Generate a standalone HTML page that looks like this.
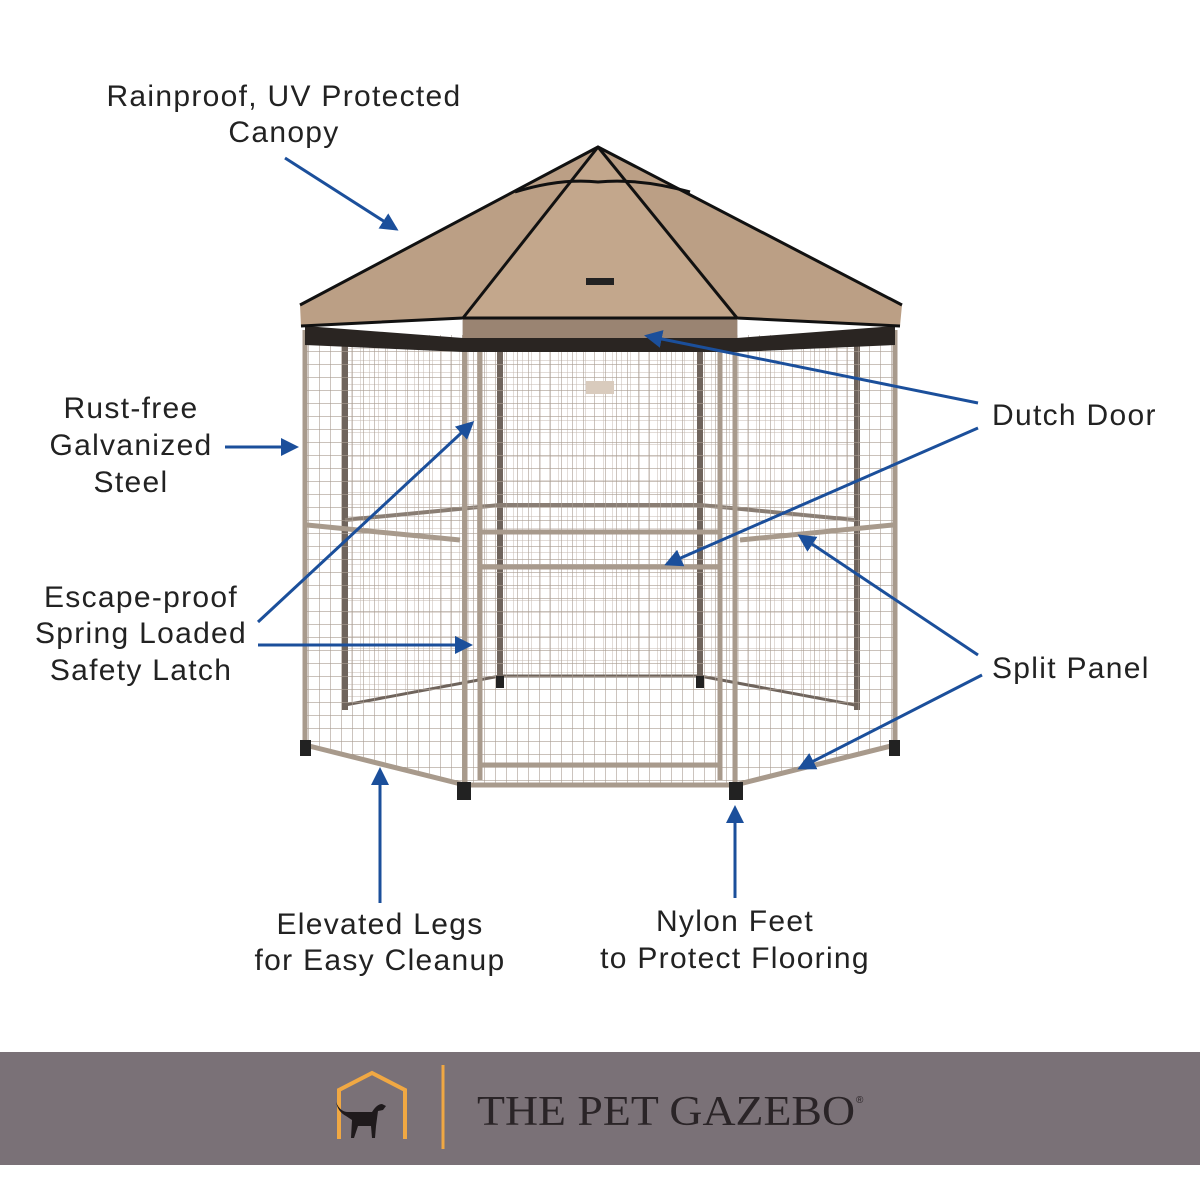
<!DOCTYPE html>
<html><head><style>
html,body{margin:0;padding:0;background:#fff;}
svg{display:block;}
text{font-family:"Liberation Sans",sans-serif;fill:#222;font-size:30px;letter-spacing:1.3px;}
</style></head><body>
<svg width="1200" height="1200" viewBox="0 0 1200 1200" xmlns="http://www.w3.org/2000/svg">
<defs>
<pattern id="g" width="11" height="13" patternUnits="userSpaceOnUse">
<path d="M0 0V13M0 0H11" stroke="#a99d92" stroke-width="1.2" fill="none"/>
</pattern>
<pattern id="g2" width="9" height="12" patternUnits="userSpaceOnUse">
<path d="M0 0V12M0 0H9" stroke="#c4bab1" stroke-width="1" fill="none"/>
</pattern>
<marker id="a" markerWidth="6" markerHeight="6" refX="5" refY="3" orient="auto" markerUnits="strokeWidth">
<path d="M0,0 L6,3 L0,6 Z" fill="#1b4f9b"/>
</marker>
</defs>
<rect width="1200" height="1200" fill="#fff"/>

<polygon points="345,340 500,340 500,676 345,705" fill="url(#g2)"/>
<polygon points="500,340 700,340 700,676 500,676" fill="url(#g2)"/>
<polygon points="700,340 855,340 855,705 700,676" fill="url(#g2)"/>
<polyline points="345,705 500,676 700,676 855,705" fill="none" stroke="#6f645c" stroke-width="3"/>
<g stroke="#6f645c" stroke-width="6">
<line x1="345" y1="340" x2="345" y2="710"/><line x1="500" y1="340" x2="500" y2="680"/>
<line x1="700" y1="340" x2="700" y2="680"/><line x1="857" y1="340" x2="857" y2="710"/>
</g>
<polyline points="345,520 500,505 700,505 855,520" fill="none" stroke="#8a7e74" stroke-width="4"/>

<polygon points="305,335 465,335 465,785 305,745" fill="url(#g)"/>
<polygon points="465,325 735,325 735,785 465,785" fill="url(#g)"/>
<polygon points="735,335 895,335 895,745 735,785" fill="url(#g)"/>
<g stroke="#a89a8c" stroke-width="5" fill="none">
<line x1="305" y1="330" x2="305" y2="748"/><line x1="465" y1="320" x2="465" y2="788"/>
<line x1="735" y1="320" x2="735" y2="788"/><line x1="895" y1="330" x2="895" y2="748"/>
<line x1="480" y1="325" x2="480" y2="780"/><line x1="720" y1="325" x2="720" y2="780"/>
<polyline points="305,745 465,785 735,785 895,745"/>
<line x1="480" y1="765" x2="720" y2="765"/>
<polyline points="307,525 460,540"/><polyline points="740,540 893,525"/>
<line x1="480" y1="532" x2="720" y2="532"/><line x1="480" y1="567" x2="720" y2="567"/>
<line x1="480" y1="336" x2="720" y2="336"/>
</g>
<rect x="586" y="381" width="28" height="13" fill="#d9cbbd"/>
<g fill="#222">
<rect x="300" y="740" width="11" height="16"/><rect x="457" y="782" width="14" height="18"/>
<rect x="729" y="782" width="14" height="18"/><rect x="889" y="740" width="11" height="16"/>
<rect x="496" y="676" width="8" height="12"/><rect x="696" y="676" width="8" height="12"/>
</g>

<polygon points="598,147 300,305 301,326 463,318 737,318 900,326 902,305" fill="#bb9f85"/>
<polygon points="598,147 463,318 737,318" fill="#c3a78c"/>
<path d="M305,326 L463,338 737,338 895,326 L895,345 737,352 463,352 305,345 Z" fill="#2a2522"/>
<rect x="463" y="318" width="274" height="20" fill="#9a8472"/>
<g stroke="#111" stroke-width="3" fill="none">
<polyline points="300,305 598,147 902,305"/>
<line x1="598" y1="147" x2="463" y2="318"/><line x1="598" y1="147" x2="737" y2="318"/>
<polyline points="301,326 463,318 737,318 900,326"/>
<path d="M515,192 Q560,178 598,182 Q640,178 690,192"/>
</g>
<rect x="586" y="278" width="28" height="7" fill="#222"/>

<g stroke="#1b4f9b" stroke-width="3" fill="none" marker-end="url(#a)">
<line x1="285" y1="158" x2="396" y2="229"/>
<line x1="225" y1="447" x2="296" y2="447"/>
<line x1="258" y1="622" x2="472" y2="423"/>
<line x1="258" y1="645" x2="470" y2="645"/>
<line x1="978" y1="403" x2="647" y2="336"/>
<line x1="978" y1="428" x2="667" y2="564"/>
<line x1="978" y1="655" x2="800" y2="536"/>
<line x1="982" y1="675" x2="800" y2="768"/>
<line x1="380" y1="903" x2="380" y2="770"/>
<line x1="735" y1="898" x2="735" y2="808"/>
</g>

<g text-anchor="middle">
<text x="284" y="106">Rainproof, UV Protected</text>
<text x="284" y="142">Canopy</text>
<text x="131" y="418">Rust-free</text>
<text x="131" y="455">Galvanized</text>
<text x="131" y="492">Steel</text>
<text x="141" y="607">Escape-proof</text>
<text x="141" y="643">Spring Loaded</text>
<text x="141" y="680">Safety Latch</text>
<text x="380" y="934">Elevated Legs</text>
<text x="380" y="970">for Easy Cleanup</text>
<text x="735" y="931">Nylon Feet</text>
<text x="735" y="968">to Protect Flooring</text>
</g>
<text x="992" y="425">Dutch Door</text>
<text x="992" y="678">Split Panel</text>

<rect x="0" y="1052" width="1200" height="113" fill="#7a7177"/>
<polyline points="339,1139 339,1090 372,1073 405,1090 405,1139" fill="none" stroke="#f0a843" stroke-width="4"/>
<path d="M336,1102 Q340,1112 348,1112 L372,1112 Q377,1104 382,1104 L386,1106 383,1110 378,1111 376,1126 375,1138 372,1138 371,1126 358,1126 354,1138 351,1138 352,1120 346,1116 Q338,1112 336,1102 Z" fill="#1f1a1c"/>
<line x1="443" y1="1065" x2="443" y2="1149" stroke="#f0a843" stroke-width="3"/>
<text x="477" y="1125" style="font-family:'Liberation Serif',serif;font-size:42px;fill:#2a2427;letter-spacing:0" textLength="378" lengthAdjust="spacingAndGlyphs">THE PET GAZEBO</text>
<text x="856" y="1103" style="font-size:10px;fill:#2a2427;letter-spacing:0">®</text>
</svg>
</body></html>
